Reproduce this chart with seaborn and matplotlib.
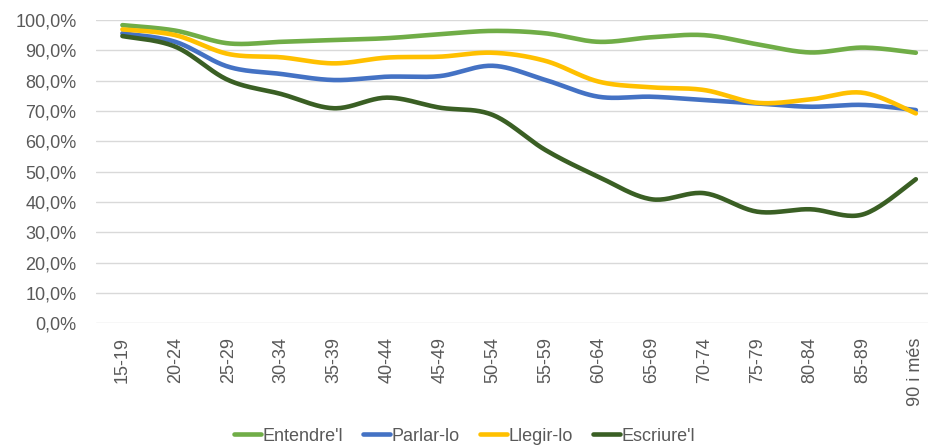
import numpy as np
import pandas as pd
import seaborn as sns
import matplotlib.pyplot as plt
from matplotlib.lines import Line2D
from matplotlib.ticker import FuncFormatter, MultipleLocator

# Data (percent)
age_groups = ['15-19', '20-24', '25-29', '30-34', '35-39', '40-44', '45-49', '50-54',
              '55-59', '60-64', '65-69', '70-74', '75-79', '80-84', '85-89', '90 i més']
entendre = [98.3, 96.5, 92.3, 92.8, 93.4, 94.0, 95.3, 96.4,
            95.6, 92.8, 94.3, 95.0, 92.0, 89.3, 90.9, 89.2]
parlar = [95.6, 92.8, 84.6, 82.2, 80.2, 81.3, 81.5, 84.9,
          80.2, 74.7, 74.7, 73.6, 72.5, 71.4, 72.0, 70.3]
llegir = [96.9, 95.0, 88.8, 87.7, 85.7, 87.6, 87.9, 89.2,
          86.5, 79.7, 77.8, 76.9, 72.7, 73.8, 76.0, 69.2]
escriure = [94.7, 91.2, 80.2, 75.6, 70.9, 74.4, 71.1, 68.7,
            57.1, 48.3, 40.9, 42.9, 36.8, 37.6, 35.9, 47.5]

series_names = ["Entendre'l", "Parlar-lo", "Llegir-lo", "Escriure'l"]
series_values = [entendre, parlar, llegir, escriure]
colors = ['#70AD47', '#4472C4', '#FFC000', '#3A5F24']


# Excel-like smoothed line (Catmull-Rom between the read points)
def smooth(y, steps=24):
    y = np.asarray(y, dtype=float)
    x = np.arange(len(y), dtype=float)
    xs, ys = [], []
    for i in range(len(y) - 1):
        p0 = max(i - 1, 0)
        p3 = min(i + 2, len(y) - 1)
        mx1 = (x[i + 1] - x[p0]) / 2
        mx2 = (x[p3] - x[i]) / 2
        my1 = (y[i + 1] - y[p0]) / 2
        my2 = (y[p3] - y[i]) / 2
        t = np.linspace(0, 1, steps, endpoint=False)
        h00 = 2 * t**3 - 3 * t**2 + 1
        h10 = t**3 - 2 * t**2 + t
        h01 = -2 * t**3 + 3 * t**2
        h11 = t**3 - t**2
        xs.append(h00 * x[i] + h10 * mx1 + h01 * x[i + 1] + h11 * mx2)
        ys.append(h00 * y[i] + h10 * my1 + h01 * y[i + 1] + h11 * my2)
    xs.append([x[-1]])
    ys.append([y[-1]])
    return np.concatenate(xs), np.concatenate(ys)


frames = []
for name, vals in zip(series_names, series_values):
    sx, sy = smooth(vals)
    frames.append(pd.DataFrame({'x': sx, 'valor': sy, 'serie': name}))
df = pd.concat(frames, ignore_index=True)

sns.set_style('white')
plt.rcParams['font.family'] = ['Liberation Sans', 'DejaVu Sans']

fig = plt.figure(figsize=(9.29, 4.47), dpi=100)
ax = fig.add_axes([0.1033, 0.2767, 0.911, 0.6786])

sns.lineplot(data=df, x='x', y='valor', hue='serie', hue_order=series_names,
             palette=colors, linewidth=3.3, estimator=None, sort=False,
             legend=False, ax=ax)
for line in ax.lines:
    line.set_clip_on(False)
    line.set_solid_capstyle('round')

ax.set_xlim(-0.5, len(age_groups) - 0.5)
ax.set_ylim(0, 100)
ax.set_xticks(range(len(age_groups)))
ax.set_xticklabels(age_groups, rotation=90)
ax.yaxis.set_major_locator(MultipleLocator(10))
ax.yaxis.set_major_formatter(FuncFormatter(lambda v, p: f'{v:.1f}%'.replace('.', ',')))
ax.tick_params(axis='both', length=0, labelsize=13, labelcolor='#595959')
ax.tick_params(axis='x', pad=10)
ax.tick_params(axis='y', pad=14)
ax.set_xlabel('')
ax.set_ylabel('')
ax.grid(axis='y', color='#D9D9D9', linewidth=1)
ax.grid(axis='x', visible=False)
for s in ax.spines.values():
    s.set_visible(False)

handles = [Line2D([0], [0], color=c, linewidth=3.3, solid_capstyle='round') for c in colors]
fig.legend(handles, series_names, loc='center', bbox_to_anchor=(0.5, 0.024), ncol=4,
           frameon=False, fontsize=13, labelcolor='#595959', handlelength=1.5,
           handletextpad=0.1, columnspacing=1.1)

fig.savefig('out.png', dpi=100)
